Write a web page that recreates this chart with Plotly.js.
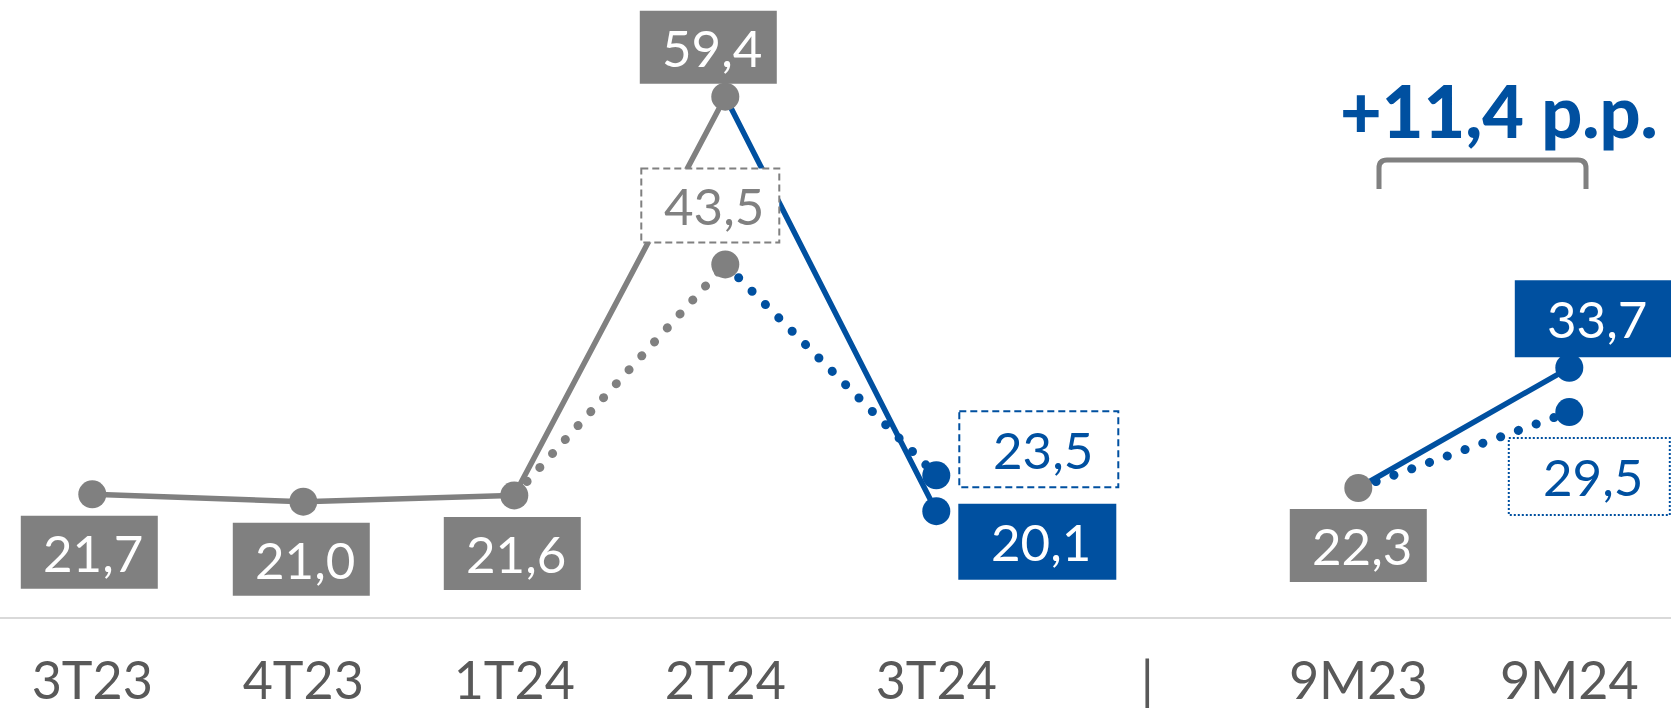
<!DOCTYPE html>
<html>
<head>
<meta charset="utf-8">
<script src="https://cdn.plot.ly/plotly-3.0.1.min.js"></script>
<style>
  html, body { margin: 0; padding: 0; background: #fff; }
  #viz { width: 1671px; height: 710px; }
  .scatterlayer .js-line { stroke-linecap: round; }
</style>
</head>
<body>
<div id="viz"></div>
<script>
// categories on the x axis ('|' is the separator between quarters and 9M)
const categories = ['3T23', '4T23', '1T24', '2T24', '3T24', '|', '9M23', '9M24'];

// quarterly values (%)
const quarters = ['3T23', '4T23', '1T24', '2T24', '3T24'];
const reported = [21.7, 21.0, 21.6, 59.4, 20.1];
const adjusted = [null, null, 21.6, 43.5, 23.5];

// nine months
const periods = ['9M23', '9M24'];
const ytdReported = [22.3, 33.7];
const ytdAdjusted = [22.3, 29.5];

const GRAY = '#808080';
const BLUE = '#0050a0';
const AXIS_TEXT = '#595959';

const idx = c => categories.indexOf(c);
const fmt = v => v.toFixed(1).replace('.', ',');

const lineTrace = (xs, ys, color, dotted) => ({
  x: xs.map(idx),
  y: ys,
  mode: 'lines',
  type: 'scatter',
  line: dotted
    ? { color: color, width: 9, dash: '0.1px,18.8px' }
    : { color: color, width: 5.5 },
  hoverinfo: 'skip'
});

const markerTrace = (pts, color) => ({
  x: pts.map(p => idx(p[0])),
  y: pts.map(p => p[1]),
  mode: 'markers',
  type: 'scatter',
  marker: { color: color, size: 28 },
  hoverinfo: 'skip'
});

const data = [
  lineTrace(quarters.slice(0, 4), reported.slice(0, 4), GRAY, false),
  lineTrace(quarters.slice(2, 4), adjusted.slice(2, 4), GRAY, true),
  lineTrace(quarters.slice(3), adjusted.slice(3), BLUE, true),
  lineTrace(quarters.slice(3), reported.slice(3), BLUE, false),
  lineTrace(periods, ytdAdjusted, BLUE, true),
  lineTrace(periods, ytdReported, BLUE, false),
  markerTrace([
    [quarters[0], reported[0]], [quarters[1], reported[1]], [quarters[2], reported[2]],
    [quarters[3], reported[3]], [quarters[3], adjusted[3]], [periods[0], ytdReported[0]]
  ], GRAY),
  markerTrace([
    [quarters[4], reported[4]], [quarters[4], adjusted[4]],
    [periods[1], ytdReported[1]], [periods[1], ytdAdjusted[1]]
  ], BLUE)
];

// label boxes: kind, point, pixel offset of the box centre, box size
const labels = [
  { kind: 'grayFill', x: quarters[0], y: reported[0], dx: -3, dy: 58, w: 137, h: 73 },
  { kind: 'grayFill', x: quarters[1], y: reported[1], dx: -2, dy: 57.5, w: 137, h: 73 },
  { kind: 'grayFill', x: quarters[2], y: reported[2], dx: -2, dy: 58, w: 137, h: 73 },
  { kind: 'grayFill', x: quarters[3], y: reported[3], dx: -17, dy: -49.5, w: 137, h: 73 },
  { kind: 'grayDash', x: quarters[3], y: adjusted[3], dx: -15, dy: -59, w: 138, h: 74 },
  { kind: 'blueDash', x: quarters[4], y: adjusted[4], dx: 102.5, dy: -26, w: 159, h: 76 },
  { kind: 'blueFill', x: quarters[4], y: reported[4], dx: 101, dy: 30.6, w: 158, h: 76 },
  { kind: 'grayFill', x: periods[0], y: ytdReported[0], dx: 0, dy: 57.4, w: 137, h: 73 },
  { kind: 'blueDot', x: periods[1], y: ytdAdjusted[1], dx: 20, dy: 64.5, w: 161, h: 77 },
  { kind: 'blueFill', x: periods[1], y: ytdReported[1], dx: 24, dy: -49, w: 157, h: 77 }
];

const kinds = {
  grayFill: { fill: GRAY, line: { width: 0 }, text: '#ffffff' },
  blueFill: { fill: BLUE, line: { width: 0 }, text: '#ffffff' },
  grayDash: { fill: '#ffffff', line: { color: GRAY, width: 2, dash: '7px,4px' }, text: GRAY },
  blueDash: { fill: '#ffffff', line: { color: BLUE, width: 2, dash: '7px,4px' }, text: BLUE },
  blueDot: { fill: '#ffffff', line: { color: BLUE, width: 2, dash: '2px,2px' }, text: BLUE }
};

const shapes = labels.map(l => ({
  type: 'rect',
  layer: 'above',
  xref: 'x', yref: 'y',
  xsizemode: 'pixel', ysizemode: 'pixel',
  xanchor: idx(l.x), yanchor: l.y,
  x0: l.dx - l.w / 2, x1: l.dx + l.w / 2,
  y0: -(l.dy - l.h / 2), y1: -(l.dy + l.h / 2),
  fillcolor: kinds[l.kind].fill,
  line: kinds[l.kind].line
}));

const annotations = labels.map(l => ({
  x: idx(l.x), y: l.y,
  xref: 'x', yref: 'y',
  text: fmt(l.y),
  showarrow: false,
  xanchor: 'center', yanchor: 'middle',
  xshift: l.dx + 4, yshift: -l.dy,
  font: { family: 'Lato, "Noto Sans", sans-serif', size: 51, color: kinds[l.kind].text }
}));

// bracket and difference over the 9M figures (pixel positions -> paper)
const W = 1671, PH = 617;
const px = v => v / W, py = v => 1 - v / PH;
const bx0 = 1379, bx1 = 1586, byT = 160, byB = 189, r = 8;
shapes.push({
  type: 'path',
  xref: 'paper', yref: 'paper',
  layer: 'above',
  path: `M ${px(bx0)},${py(byB)} L ${px(bx0)},${py(byT + r)} Q ${px(bx0)},${py(byT)} ${px(bx0 + r)},${py(byT)} ` +
        `L ${px(bx1 - r)},${py(byT)} Q ${px(bx1)},${py(byT)} ${px(bx1)},${py(byT + r)} L ${px(bx1)},${py(byB)}`,
  line: { color: GRAY, width: 5 }
});

const diff = ytdReported[1] - ytdReported[0];
annotations.push({
  xref: 'paper', yref: 'paper',
  x: px(1499), y: py(110),
  xanchor: 'center', yanchor: 'middle',
  showarrow: false,
  text: '+' + fmt(diff) + ' p.p.',
  font: { family: 'Lato, "Noto Sans", sans-serif', size: 72, weight: 900, color: BLUE }
});

const layout = {
  width: 1671,
  height: 710,
  margin: { l: 0, r: 0, t: 0, b: 93 },
  paper_bgcolor: '#ffffff',
  plot_bgcolor: '#ffffff',
  showlegend: false,
  hovermode: false,
  xaxis: {
    type: 'linear',
    range: [-0.4374, 7.482],
    tickvals: categories.map((c, i) => i),
    ticktext: categories,
    showgrid: false,
    zeroline: false,
    showline: true,
    linecolor: '#d9d9d9',
    linewidth: 2,
    ticks: '',
    ticklabelstandoff: 18,
    tickfont: { family: 'Lato, "Noto Sans", sans-serif', size: 52, color: AXIS_TEXT },
    fixedrange: true
  },
  yaxis: {
    range: [10.07, 68.57],
    visible: false,
    fixedrange: true
  },
  shapes: shapes,
  annotations: annotations
};

Plotly.newPlot('viz', data, layout, { displayModeBar: false, staticPlot: true });
</script>
</body>
</html>
